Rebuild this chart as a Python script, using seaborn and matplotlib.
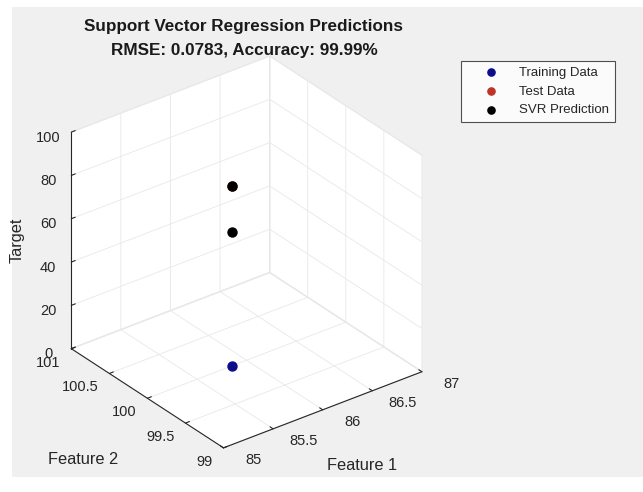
import matplotlib
matplotlib.use("Agg")
import matplotlib.pyplot as plt
from matplotlib.patches import Rectangle
from mpl_toolkits.mplot3d import proj3d
import seaborn as sns
import numpy as np

sns.set_style("white")
plt.rcParams['font.family'] = ['Liberation Sans', 'DejaVu Sans']

# Data
train_f1 = [85.85]
train_f2 = [100.0]
train_y = [0.0]
test_f1 = [85.85]
test_f2 = [100.0]
test_y = [83.0]
pred_f1 = [85.85, 85.85]
pred_f2 = [100.0, 100.0]
pred_y = [83.0, 62.0]

x_ticks = [85, 85.5, 86, 86.5, 87]
y_ticks = [99, 99.5, 100, 100.5, 101]
z_ticks = [0, 20, 40, 60, 80, 100]
x_labels = ['85', '85.5', '86', '86.5', '87']
y_labels = ['99', '99.5', '100', '100.5', '101']
z_labels = ['0', '20', '40', '60', '80', '100']

W, H = 643, 492
fig = plt.figure(figsize=(W / 100, H / 100), dpi=100)
fig.patch.set_facecolor('white')
fig.patches.append(Rectangle((12 / W, 1 - 477 / H), 1 - 12 / W, (477 - 7) / H,
                             transform=fig.transFigure, facecolor='#f0f0f0',
                             edgecolor='none', zorder=-10))

ax = fig.add_axes([-0.0097, -0.0194, 0.766, 0.988], projection='3d', computed_zorder=False)
ax.patch.set_alpha(0)
ax.set_proj_type('ortho')
ax.set_box_aspect((1, 1, 1), zoom=0.865)

pal = sns.color_palette([(0.05, 0.05, 0.55), (0.75, 0.2, 0.15), (0.0, 0.0, 0.0)])
ax.scatter(train_f1, train_f2, train_y, color=pal[0], s=42, depthshade=False, label='Training Data', zorder=3)
ax.scatter(test_f1, test_f2, test_y, color=pal[1], s=42, depthshade=False, label='Test Data', zorder=4)
ax.scatter(pred_f1, pred_f2, pred_y, color=pal[2], s=42, depthshade=False, label='SVR Prediction', zorder=5)

ax.set_xlim(85, 87)
ax.set_ylim(99, 101)
ax.set_zlim(0, 100)
ax.set_xticks(x_ticks)
ax.set_yticks(y_ticks)
ax.set_zticks(z_ticks)
ax.set_zticklabels(z_labels)
ax.view_init(elev=30, azim=-127.5)

for a in (ax.xaxis, ax.yaxis, ax.zaxis):
    a.set_pane_color((1, 1, 1, 1))
    a.pane.set_edgecolor((0.92, 0.92, 0.92, 1))
    a._axinfo['grid']['color'] = (0.91, 0.91, 0.91, 1)
    a._axinfo['grid']['linewidth'] = 0.6
    a._axinfo['tick']['inward_factor'] = 0.0
    a._axinfo['tick']['outward_factor'] = 0.25
    a.line.set_color('#262626')
    a.line.set_linewidth(0.8)
ax.tick_params(labelsize=10.5, colors='#262626', pad=0)
ax.tick_params(axis='z', pad=4)
ax.tick_params(axis='x', labelbottom=False, labeltop=False)
ax.tick_params(axis='y', labelleft=False, labelright=False)

ax.set_xlabel('')
ax.set_ylabel('')
ax.set_zlabel('')

# tick labels of the two floor axes: project the tick values to the figure
fig.canvas.draw()
M = ax.get_proj()


def floor_label(x, y, z, s, dx, dy, ha):
    px, py, _ = proj3d.proj_transform(x, y, z, M)
    dispx, dispy = ax.transData.transform((px, py))
    fig.text((dispx + dx) / W, (dispy + dy) / H, s, ha=ha, va='center',
             fontsize=10.5, color='#262626')


for v, s in zip(x_ticks, x_labels):
    floor_label(v, y_ticks[0], z_ticks[0], s, 30, -12, 'center')
for v, s in zip(y_ticks, y_labels):
    floor_label(x_ticks[0], v, z_ticks[0], s, -11, -14, 'right')

fig.text(362 / W, 1 - 465 / H, 'Feature 1', fontsize=11.8, color='#262626', ha='center', va='center')
fig.text(83 / W, 1 - 460 / H, 'Feature 2', fontsize=11.8, color='#262626', ha='center', va='center')
fig.text(17 / W, 1 - 240 / H, 'Target', fontsize=11.8, color='#262626', ha='center', va='center', rotation=90)

fig.text(244 / W, 1 - 26 / H, 'Support Vector Regression Predictions', fontsize=12.3,
         fontweight='bold', ha='center', va='center', color='#1a1a1a')
fig.text(244 / W, 1 - 51 / H, 'RMSE: 0.0783, Accuracy: 99.99%', fontsize=12.3,
         fontweight='bold', ha='center', va='center', color='#1a1a1a')

leg = fig.legend(loc='upper left', bbox_to_anchor=(461 / W, 1 - 61 / H), fontsize=9.5,
                 frameon=True, fancybox=False, edgecolor='#262626', markerscale=0.8,
                 borderaxespad=0, handletextpad=0.3, handlelength=3.7,
                 borderpad=0.42, labelspacing=0.5)
leg.get_frame().set_facecolor('white')
leg.get_frame().set_linewidth(0.8)

fig.savefig('out.png', dpi=100, facecolor=fig.get_facecolor())
